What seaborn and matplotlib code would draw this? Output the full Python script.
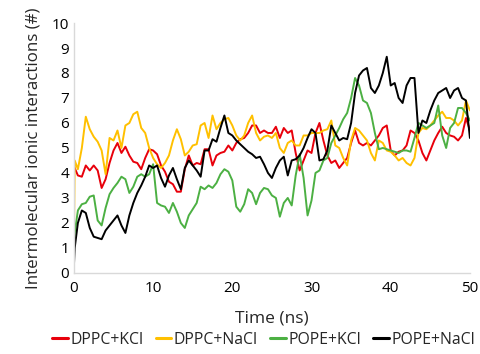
import numpy as np
import pandas as pd
import matplotlib
matplotlib.use("Agg")
import matplotlib.pyplot as plt
from matplotlib.ticker import MultipleLocator
import seaborn as sns

time_ns = np.concatenate([[0.0, 0.1], np.arange(0.5, 50.01, 0.5)])

dppc_kcl = [4.3, 4.2, 3.9, 3.85, 4.3, 4.1, 4.3, 4.1, 3.4, 3.75, 4.4, 4.9, 5.2, 4.8, 5.05, 4.7,
            4.45, 4.4, 4.15, 4.6, 4.95, 4.9, 4.75, 4.3, 4.05, 3.65, 3.55, 3.25, 3.25, 4.15, 4.7,
            4.3, 4.4, 4.35, 4.95, 4.95, 4.3, 4.7, 4.8, 4.85, 5.1, 4.9, 5.2, 5.35, 5.4, 5.6, 5.9,
            5.9, 5.6, 5.7, 5.6, 5.6, 5.85, 5.4, 5.8, 5.6, 5.7, 4.8, 4.1, 4.5, 4.9, 4.8, 5.6, 6.0,
            5.3, 4.7, 4.4, 4.5, 4.2, 4.4, 4.6, 5.2, 5.7, 5.2, 5.1, 5.2, 5.1, 5.3, 5.5, 5.8, 5.9,
            4.9, 4.7, 4.85, 4.9, 5.1, 5.7, 5.6, 5.3, 4.8, 4.5, 4.9, 5.3, 5.6, 5.85, 5.6, 5.5,
            5.45, 5.3, 5.5, 6.2, 5.7]
dppc_nacl = [1.2, 4.5, 4.15, 5.0, 6.25, 5.75, 5.45, 5.25, 4.9, 3.95, 5.4, 5.3, 5.7, 5.0, 5.9,
             6.0, 6.35, 6.45, 5.8, 5.6, 5.0, 4.6, 4.35, 4.2, 4.4, 4.7, 5.3, 5.75, 5.35, 4.7,
             4.85, 5.1, 5.15, 5.9, 6.0, 5.4, 6.3, 5.75, 6.0, 6.15, 6.2, 5.9, 5.5, 5.3, 5.5, 6.0,
             6.3, 5.6, 5.3, 5.45, 5.5, 5.4, 5.6, 5.0, 4.8, 5.2, 5.3, 5.1, 5.1, 5.5, 5.5, 5.6,
             5.6, 5.6, 5.7, 5.75, 6.1, 5.1, 5.0, 4.6, 4.3, 5.3, 5.8, 5.7, 5.5, 5.3, 4.8, 4.5,
             5.3, 5.2, 4.9, 4.85, 4.7, 4.5, 4.6, 4.4, 4.3, 4.6, 5.6, 5.8, 5.75, 5.9, 6.1, 6.3,
             6.45, 6.2, 6.2, 6.1, 5.9, 6.1, 6.9, 6.5]
pope_kcl = [0.9, 1.6, 2.5, 2.75, 2.8, 3.05, 3.1, 2.1, 1.9, 2.6, 3.15, 3.4, 3.6, 3.85, 3.75, 3.2,
            3.45, 3.85, 3.95, 3.85, 3.95, 4.35, 2.8, 2.7, 2.65, 2.4, 2.8, 2.45, 2.0, 1.8, 2.3,
            2.55, 2.8, 3.45, 3.35, 3.5, 3.4, 3.6, 3.95, 4.15, 4.05, 3.7, 2.65, 2.45, 2.75, 3.35,
            3.2, 2.75, 3.2, 3.4, 3.35, 3.1, 3.0, 2.25, 2.8, 3.0, 2.7, 3.9, 4.75, 3.8, 2.3, 2.9,
            4.0, 4.1, 4.5, 4.6, 5.2, 5.5, 5.8, 6.15, 6.4, 7.0, 7.8, 7.5, 6.9, 6.8, 6.4, 5.6,
            4.95, 5.0, 4.95, 4.9, 4.85, 4.8, 4.9, 4.9, 4.85, 5.4, 6.0, 5.9, 5.8, 5.9, 6.0, 6.7,
            5.5, 5.0, 5.8, 6.0, 6.6, 6.6, 6.4, 6.1]
pope_nacl = [0.3, 1.0, 2.0, 2.5, 2.4, 1.8, 1.45, 1.4, 1.35, 1.7, 1.9, 2.1, 2.3, 1.9, 1.6, 2.3,
             2.8, 3.2, 3.5, 3.85, 4.3, 4.2, 4.3, 3.8, 3.45, 3.9, 4.2, 3.75, 3.35, 4.2, 4.5,
             4.3, 4.1, 3.85, 4.9, 4.9, 5.35, 5.25, 5.8, 6.3, 5.6, 5.5, 5.3, 5.15, 5.0, 4.85,
             4.75, 4.6, 4.65, 4.35, 4.0, 3.8, 4.2, 4.5, 4.65, 3.9, 4.5, 4.55, 4.7, 5.0, 5.4,
             5.75, 5.6, 4.5, 4.55, 4.9, 5.9, 5.6, 5.3, 5.4, 5.35, 6.0, 7.2, 7.9, 8.1, 8.2, 7.4,
             7.2, 7.5, 8.0, 8.65, 7.5, 7.6, 7.0, 6.8, 7.5, 7.8, 7.8, 5.6, 6.1, 6.0, 6.5, 6.9,
             7.2, 7.3, 7.4, 7.0, 7.3, 7.4, 7.0, 6.9, 5.4]

series_names = ["DPPC+KCl", "DPPC+NaCl", "POPE+KCl", "POPE+NaCl"]
series_values = [dppc_kcl, dppc_nacl, pope_kcl, pope_nacl]
series_colors = ["#E8000B", "#FFC000", "#4CB043", "#000000"]

frames = []
for name, vals in zip(series_names, series_values):
    frames.append(pd.DataFrame({"Time": time_ns, "Value": vals, "System": name}))
df = pd.concat(frames, ignore_index=True)

sns.set_style("white")
plt.rcParams["font.family"] = ["Open Sans", "DejaVu Sans"]

fig = plt.figure(figsize=(4.8, 3.54), dpi=100)
ax = fig.add_axes([0.154, 0.229, 0.825, 0.706])

sns.lineplot(data=df, x="Time", y="Value", hue="System", hue_order=series_names,
             palette=dict(zip(series_names, series_colors)), linewidth=1.4, ax=ax,
             legend=True)

ax.set_xlim(0, 50)
ax.set_ylim(0, 10)
ax.xaxis.set_major_locator(MultipleLocator(10))
ax.xaxis.set_minor_locator(MultipleLocator(2))
ax.yaxis.set_major_locator(MultipleLocator(1))
ax.yaxis.set_minor_locator(MultipleLocator(0.2))
for side in ["top", "right"]:
    ax.spines[side].set_visible(False)
for side in ["left", "bottom"]:
    ax.spines[side].set_color("#D9D9D9")
    ax.spines[side].set_linewidth(1.0)
ax.tick_params(axis="both", which="both", direction="in", color="#D9D9D9",
               labelsize=11, labelcolor="#000000")
ax.tick_params(axis="both", which="major", length=4)
ax.tick_params(axis="both", which="minor", length=3)
ax.tick_params(axis="x", which="both", pad=6)
ax.set_xlabel("Time (ns)", fontsize=12.5, labelpad=10)
ax.set_ylabel("Intermolecular ionic interactions (#)", fontsize=12.2, labelpad=7)

handles, labels = ax.get_legend_handles_labels()
ax.get_legend().remove()
for h in handles:
    h.set_linewidth(2.2)
fig.legend(handles, labels, loc="center", bbox_to_anchor=(0.549, 0.04), ncol=4,
           frameon=False, fontsize=11.3, handlelength=1.0, handletextpad=0.15,
           columnspacing=0.8, borderaxespad=0, borderpad=0)

fig.savefig("out.png", dpi=100)
